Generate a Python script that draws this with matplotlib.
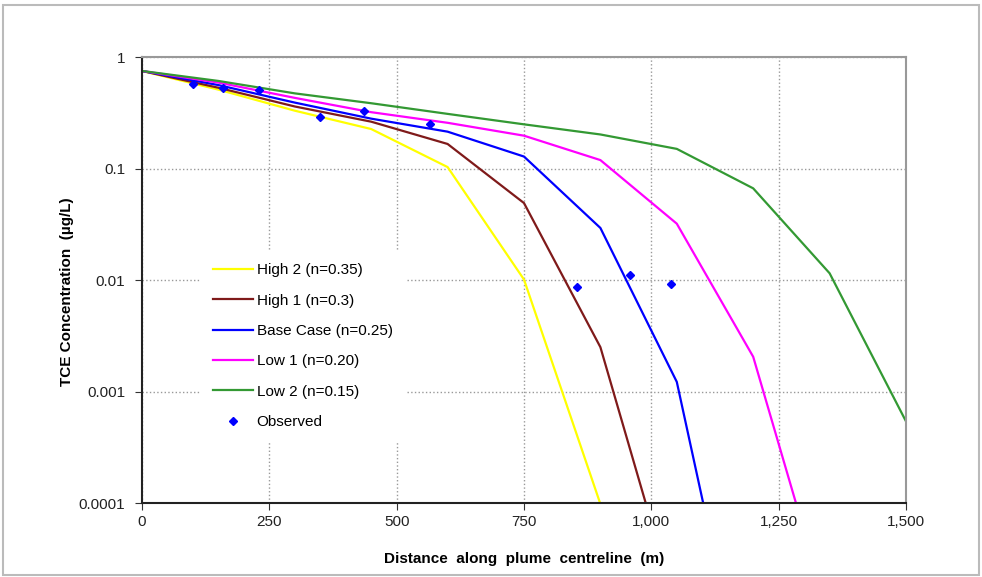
import matplotlib.pyplot as plt
import matplotlib.ticker as mticker
from matplotlib.patches import Rectangle

plt.rcParams['font.family'] = ['Liberation Sans', 'DejaVu Sans']

# Model distances (m)
distance = [0, 150, 300, 450, 600, 750, 900, 1050, 1200, 1350, 1500]

# Simulated TCE concentrations (ug/L)
high2 = [0.75, 0.51, 0.33, 0.226, 0.103, 0.0101, 0.000098, 1e-6]
high1 = [0.75, 0.53, 0.36, 0.263, 0.166, 0.049, 0.0025, 1.1e-5]
base_case = [0.75, 0.56, 0.39, 0.28, 0.214, 0.128, 0.0293, 0.00122, 8.7e-7]
low1 = [0.75, 0.59, 0.43, 0.32, 0.257, 0.197, 0.119, 0.032, 0.00205, 9.3e-6]
low2 = [0.75, 0.61, 0.472, 0.385, 0.309, 0.249, 0.202, 0.150, 0.0664, 0.0115, 0.00054]

# Observed data
obs_x = [101, 160, 229, 350, 435, 566, 855, 959, 1039]
obs_y = [0.569, 0.531, 0.506, 0.288, 0.328, 0.251, 0.0087, 0.0110, 0.0092]

series = [
    ("High 2 (n=0.35)", high2, "#FFFF00"),
    ("High 1 (n=0.3)", high1, "#7F1A1A"),
    ("Base Case (n=0.25)", base_case, "#0000FF"),
    ("Low 1 (n=0.20)", low1, "#FF00FF"),
    ("Low 2 (n=0.15)", low2, "#339933"),
]

fig = plt.figure(figsize=(9.82, 5.77), dpi=100)
ax = fig.add_axes([0.1446, 0.1282, 0.778, 0.773])

for label, vals, col in series:
    ax.plot(distance[:len(vals)], vals, color=col, lw=1.6, label=label)
ax.plot(obs_x, obs_y, linestyle='none', marker='D', ms=4.5, color='#0000FF', label="Observed")

ax.set_yscale('log')
ax.set_xlim(0, 1500)
ax.set_ylim(0.0001, 1)
ax.set_xticks(range(0, 1501, 250))
ax.xaxis.set_major_formatter(mticker.FuncFormatter(lambda v, p: f"{int(v):,}"))
ax.set_yticks([0.0001, 0.001, 0.01, 0.1, 1])
ax.set_yticklabels(["0.0001", "0.001", "0.01", "0.1", "1"])
ax.yaxis.set_minor_locator(mticker.NullLocator())
ax.tick_params(axis='both', direction='out', length=5, labelsize=11, color='#333333',
               labelcolor='#222222')
ax.tick_params(axis='y', pad=7)

ax.grid(True, which='major', color='#999999', linestyle=':', linewidth=1)
ax.set_axisbelow(True)
for side in ['left', 'bottom']:
    ax.spines[side].set_color('#222222')
    ax.spines[side].set_linewidth(1.5)
for side in ['top', 'right']:
    ax.spines[side].set_color('#999999')
    ax.spines[side].set_linewidth(1.5)

ax.set_xlabel("Distance  along  plume  centreline  (m)", fontsize=11, fontweight='bold', labelpad=17)
ax.set_ylabel("TCE Concentration  (\u00b5g/L)", fontsize=11, fontweight='bold')
ax.yaxis.set_label_coords(-0.089, 0.473)

leg = ax.legend(loc='upper left', bbox_to_anchor=(0.067, 0.582), frameon=True, fontsize=11,
                handlelength=2.6, handletextpad=0.26, labelspacing=1.07, borderpad=0.8,
                fancybox=False)
leg.get_frame().set_edgecolor('white')
leg.get_frame().set_facecolor('white')
leg.get_frame().set_alpha(1)

# light frame around the whole picture
fig.patches.append(Rectangle((0.003, 0.003), 0.994, 0.988, transform=fig.transFigure,
                             fill=False, edgecolor='#BBBBBB', linewidth=1.5))

fig.savefig("out.png", dpi=100)
